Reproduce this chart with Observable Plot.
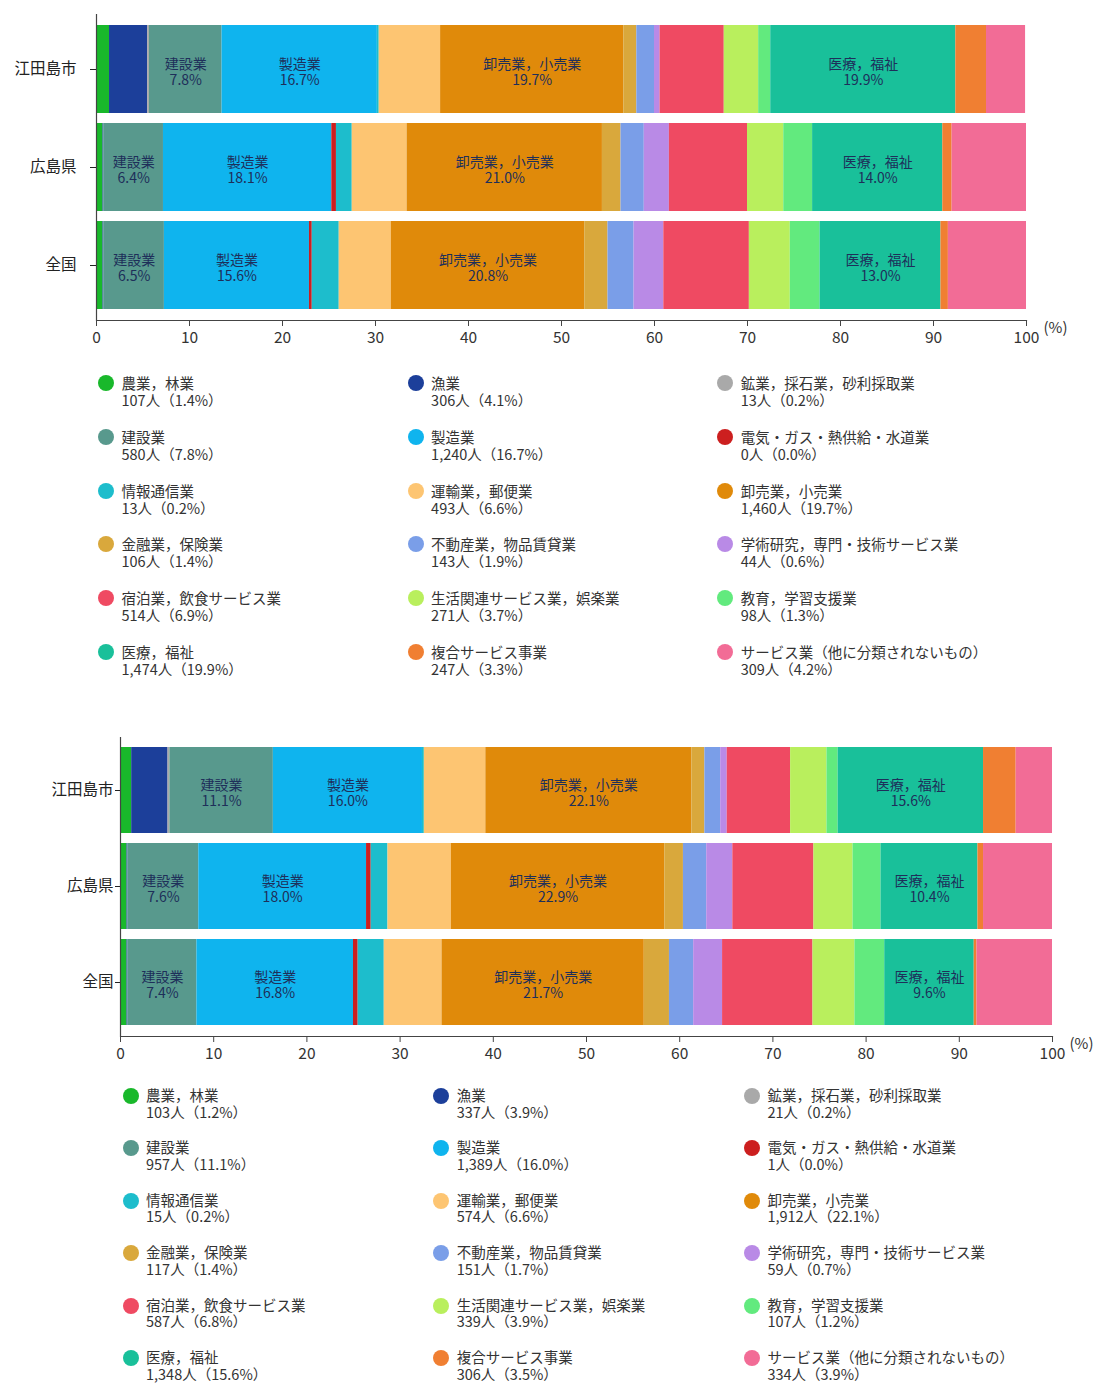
<!DOCTYPE html>
<html>
<head>
<meta charset="utf-8">
<script src="https://cdn.jsdelivr.net/npm/d3@7"></script>
<script src="https://cdn.jsdelivr.net/npm/@observablehq/plot@0.6"></script>
<style>
  html, body { margin: 0; padding: 0; background: #fff; }
  #page { position: relative; width: 1099px; height: 1383px; overflow: hidden;
          font-family: "Noto Sans CJK JP", "Noto Sans", sans-serif; color: #333; }
  .chart { position: absolute; left: 0; }
  .item { position: absolute; font-size: 14.5px; color: #333; white-space: nowrap; }
  .item .dot { position: absolute; left: 0; top: 1px; width: 16px; height: 16px; border-radius: 50%; }
  .item .t { position: absolute; top: 0; }
</style>
</head>
<body>
<div id="page">
  <div id="chart1" class="chart" style="top:0px"></div>
  <div id="legend1"></div>
  <div id="chart2" class="chart" style="top:723px"></div>
  <div id="legend2"></div>
</div>
<script>
// ---- data ----
const regions = ["江田島市", "広島県", "全国"];
const industries = [
  "農業，林業", "漁業", "鉱業，採石業，砂利採取業",
  "建設業", "製造業", "電気・ガス・熱供給・水道業",
  "情報通信業", "運輸業，郵便業", "卸売業，小売業",
  "金融業，保険業", "不動産業，物品賃貸業", "学術研究，専門・技術サービス業",
  "宿泊業，飲食サービス業", "生活関連サービス業，娯楽業", "教育，学習支援業",
  "医療，福祉", "複合サービス事業", "サービス業（他に分類されないもの）"
];
const colors = [
  "#19b82b", "#1c3f9a", "#a9a9a9",
  "#58998d", "#0fb4ee", "#cc1f1f",
  "#1dbdcc", "#fdc572", "#e08a0a",
  "#d9a83c", "#7a9ee8", "#b98ae6",
  "#ef4a62", "#b9ef5d", "#62ea7e",
  "#19c09a", "#f07f32", "#f26c96"
];
const labeledIndustries = ["建設業", "製造業", "卸売業，小売業", "医療，福祉"];
const xTicks = [0, 10, 20, 30, 40, 50, 60, 70, 80, 90, 100];

// chart 1 (upper)
const top_edajima   = [1.4, 4.1, 0.2, 7.8, 16.7, 0.0, 0.2, 6.6, 19.7, 1.4, 1.9, 0.6, 6.9, 3.7, 1.3, 19.9, 3.3, 4.2];
const top_hiroshima = [0.7, 0.1, 0.0, 6.4, 18.1, 0.5, 1.7, 5.9, 21.0, 2.0, 2.5, 2.7, 8.4, 3.9, 3.1, 14.0, 1.0, 8.0];
const top_zenkoku   = [0.7, 0.1, 0.0, 6.5, 15.6, 0.3, 2.9, 5.6, 20.8, 2.5, 2.8, 3.2, 9.2, 4.4, 3.2, 13.0, 0.8, 8.4];
const top_people    = [107, 306, 13, 580, 1240, 0, 13, 493, 1460, 106, 143, 44, 514, 271, 98, 1474, 247, 309];

// chart 2 (lower)
const bottom_edajima   = [1.2, 3.9, 0.2, 11.1, 16.0, 0.0, 0.2, 6.6, 22.1, 1.4, 1.7, 0.7, 6.8, 3.9, 1.2, 15.6, 3.5, 3.9];
const bottom_hiroshima = [0.7, 0.1, 0.0, 7.6, 18.0, 0.5, 1.8, 6.8, 22.9, 2.0, 2.5, 2.8, 8.7, 4.2, 3.0, 10.4, 0.6, 7.4];
const bottom_zenkoku   = [0.7, 0.1, 0.0, 7.4, 16.8, 0.5, 2.8, 6.2, 21.7, 2.7, 2.6, 3.1, 9.7, 4.5, 3.2, 9.6, 0.3, 8.1];
const bottom_people    = [103, 337, 21, 957, 1389, 1, 15, 574, 1912, 117, 151, 59, 587, 339, 107, 1348, 306, 334];

// ---- helpers ----
function buildRows(series) {
  const rows = [];
  regions.forEach((r, ri) => {
    industries.forEach((ind, ii) => rows.push({region: r, industry: ind, value: series[ri][ii]}));
  });
  return rows;
}

function makeChart(series, opts) {
  const rows = buildRows(series);
  return Plot.plot({
    width: 1099,
    height: opts.height,
    marginLeft: opts.left,
    marginRight: 1099 - opts.right,
    marginTop: opts.marginTop,
    marginBottom: 30,
    style: {fontFamily: '"Noto Sans CJK JP", "Noto Sans", sans-serif', background: "transparent", color: "#333"},
    x: {domain: [0, 100]},
    y: {domain: regions, padding: 0.1},
    color: {domain: industries, range: colors},
    marks: [
      Plot.barX(rows, Plot.stackX({x: "value", y: "region", fill: "industry"})),
      Plot.text(rows, Plot.stackX({
        x: "value", y: "region", z: "industry",
        text: d => labeledIndustries.includes(d.industry) ? `${d.industry}\n${d.value.toFixed(1)}%` : null,
        fill: "#1e2f5a", fontSize: 14, lineHeight: 1.17, dy: 2
      })),
      Plot.ruleX([0], {stroke: "#444", strokeWidth: 1.2}),
      Plot.frame({anchor: "bottom", stroke: "#444", strokeWidth: 1.2}),
      Plot.axisX({ticks: xTicks, tickSize: 6, tickPadding: 5, fontSize: 15.5, label: null, stroke: "#444", color: "#333"}),
      Plot.axisY({tickSize: opts.ytick, tickPadding: opts.ypad, fontSize: 15.5, label: null, color: "#222"}),
      Plot.text(["(%)"], {frameAnchor: "bottom-right", dx: opts.pctDx, dy: 8, textAnchor: "start", lineAnchor: "middle", fontSize: 15, fill: "#333"})
    ]
  });
}

function makeLegend(el, values, people, o) {
  const fmt = d3.format(",");
  industries.forEach((name, i) => {
    const c = i % 3, r = Math.floor(i / 3);
    const cy = o.cy0 + r * o.rowStep;
    const item = document.createElement("div");
    item.className = "item";
    item.style.left = (o.cx0 - 8 + c * o.colStep) + "px";
    item.style.top = (cy - 9) + "px";
    item.style.lineHeight = o.lh + "px";
    const dot = document.createElement("span");
    dot.className = "dot";
    dot.style.background = colors[i];
    const t = document.createElement("div");
    t.className = "t";
    t.style.left = (o.tx0 - o.cx0 + 8) + "px";
    t.innerHTML = `<div>${name}</div><div>${fmt(people[i])}人（${values[i].toFixed(1)}%）</div>`;
    item.appendChild(dot);
    item.appendChild(t);
    el.appendChild(item);
  });
}

document.getElementById("chart1").appendChild(
  makeChart([top_edajima, top_hiroshima, top_zenkoku],
            {height: 350, left: 96, right: 1026, marginTop: 14, ytick: 6, ypad: 14, pctDx: 17}));
document.getElementById("chart2").appendChild(
  makeChart([bottom_edajima, bottom_hiroshima, bottom_zenkoku],
            {height: 343, left: 120, right: 1052, marginTop: 14, ytick: 5, ypad: 2, pctDx: 17}));

makeLegend(document.getElementById("legend1"), top_edajima, top_people,
           {cx0: 106, tx0: 121.5, colStep: 309.6, cy0: 383, rowStep: 53.8, lh: 17});
makeLegend(document.getElementById("legend2"), bottom_edajima, bottom_people,
           {cx0: 130.6, tx0: 146, colStep: 310.7, cy0: 1096, rowStep: 52.4, lh: 16.5});
</script>
</body>
</html>
